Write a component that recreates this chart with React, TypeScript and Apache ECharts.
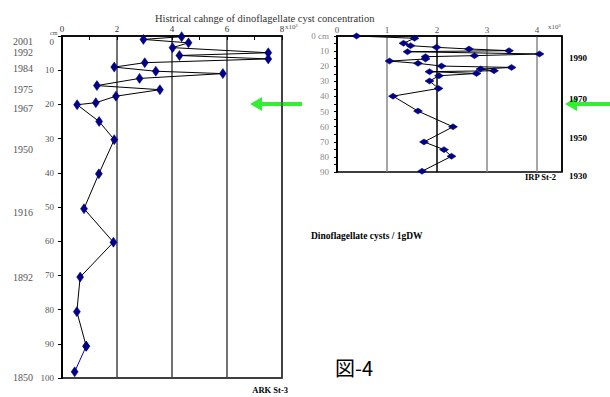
import React, { useEffect, useRef } from 'react';
import * as echarts from 'echarts';

// ARK St-3 (left panel): depth (cm) and cyst concentration (x10^3 / gDW)
const leftDepth = [0.2, 1, 2, 3.4, 4.9, 5.7, 6.7, 7.8, 9.1, 10.3, 11, 12.4, 14.5, 15.7, 17.6, 19.5, 20.1, 25, 30.3, 40.3, 50.5, 60.3, 70.5, 80.6, 90.7, 98.2];
const leftValue = [4.35, 2.96, 4.6, 4.02, 7.5, 4.27, 7.5, 3.01, 1.9, 3.41, 5.85, 2.82, 1.27, 3.56, 1.96, 1.23, 0.55, 1.35, 1.9, 1.34, 0.8, 1.87, 0.66, 0.54, 0.88, 0.46];
const leftYears = [2001, 1992, 1984, 1975, 1967, 1950, 1916, 1892, 1850];
const leftYearDepth = [1.7, 4.8, 9.6, 15.6, 21.1, 33.3, 51.6, 70.7, 99.8];

// IRP St-2 (right panel)
const rightDepth = [0, 1.5, 4.8, 6.4, 7.5, 8.6, 9.7, 10.4, 11.9, 13, 13.7, 15.2, 16.6, 18.1, 19.9, 20.8, 21.9, 23, 23.6, 24.8, 26.3, 29.8, 34.7, 39.8, 49.7, 60.1, 70.1, 75.2, 79.6, 89.5];
const rightValue = [0.39, 1.55, 1.33, 1.47, 1.99, 2.64, 3.44, 1.41, 4.05, 2.75, 1.77, 1.77, 1.05, 1.62, 2.09, 3.49, 2.87, 3.14, 1.85, 2.79, 2.04, 1.85, 2.03, 1.12, 1.62, 2.32, 1.74, 2.14, 2.29, 1.7];
const rightYears = [1990, 1970, 1950, 1930];
const rightYearDepth = [14.4, 42, 67.4, 90];

const serif = "'Liberation Serif', 'DejaVu Serif', serif";

export default function App() {
  const ref = useRef<HTMLDivElement>(null);
  useEffect(() => {
    const chart = echarts.init(ref.current!, null, { renderer: 'svg' });
    const leftMain = leftValue.slice(0, 25).map((v, i) => [v, leftDepth[i]]);
    const leftTail = leftValue.slice(24).map((v, i) => [v, leftDepth[i + 24]]);
    const rightData = rightValue.map((v, i) => [v, rightDepth[i]]);
    const lookup = (depths: number[], years: number[], v: number) => {
      const i = depths.findIndex((d) => Math.abs(d - v) < 1e-6);
      return i >= 0 ? String(years[i]) : '';
    };
    const arrow = (tip: number, tail: number, y: number) => ({
      type: 'polygon',
      shape: {
        points: [
          [tip, y], [tip + 12, y - 7], [tip + 12, y - 2], [tail, y - 2],
          [tail, y + 2], [tip + 12, y + 2], [tip + 12, y + 7],
        ],
      },
      style: { fill: '#33ee33' },
    });
    chart.setOption({
      animation: false,
      backgroundColor: '#fff',
      title: {
        text: 'Histrical cahnge of dinoflagellate cyst concentration',
        left: 150,
        top: 8,
        textStyle: { fontFamily: serif, fontSize: 10.5, fontWeight: 'normal', color: '#333' },
      },
      grid: [
        { left: 62, top: 36, width: 220, height: 342, show: true, borderColor: '#000', borderWidth: 1.5 },
        { left: 337, top: 36, width: 225, height: 136, show: true, borderColor: '#000', borderWidth: 1.5 },
      ],
      xAxis: [
        {
          gridIndex: 0, type: 'value', position: 'top', min: 0, max: 8, interval: 2,
          axisLine: { show: true, lineStyle: { color: '#000', width: 1.5 } },
          axisTick: { show: true, inside: true, length: 4, lineStyle: { color: '#000' } },
          minorTick: { show: true, splitNumber: 2, length: 4, lineStyle: { color: '#000' } },
          axisLabel: { fontFamily: serif, fontSize: 9, color: '#333', margin: 3 },
          splitLine: { show: true, lineStyle: { color: '#444', width: 1.5 } },
        },
        {
          gridIndex: 1, type: 'value', position: 'top', min: 0, max: 4.5, interval: 1,
          axisLine: { show: true, lineStyle: { color: '#000', width: 1.5 } },
          axisTick: { show: false },
          axisLabel: { fontFamily: serif, fontSize: 9, color: '#555', margin: 2, showMaxLabel: false,
            formatter: (v: number) => (v === 4.5 ? '' : String(v)) },
          splitLine: { show: true, lineStyle: { color: ['#000', '#888', '#000', '#888', '#888', '#000'], width: 1.5 } },
        },
      ],
      yAxis: [
        {
          gridIndex: 0, type: 'value', inverse: true, min: 0, max: 100, interval: 10,
          axisLine: { show: true, lineStyle: { color: '#000', width: 2 } },
          axisTick: { show: true, length: 4, lineStyle: { color: '#000' } },
          axisLabel: {
            fontFamily: serif, fontSize: 9, color: '#555', margin: 8,
            formatter: (v: number) => (v === 0 ? '{z|0}' : String(v)),
            rich: { z: { fontFamily: serif, fontSize: 9, color: '#555', padding: [11, 0, 0, 0] } },
          },
          splitLine: { show: false },
        },
        {
          gridIndex: 0, type: 'value', inverse: true, min: 0, max: 100, position: 'left', offset: 25,
          axisLine: { show: false }, axisTick: { show: false }, splitLine: { show: false },
          axisLabel: {
            fontFamily: serif, fontSize: 10, color: '#555', margin: 4,
            customValues: leftYearDepth,
            formatter: (v: number) => lookup(leftYearDepth, leftYears, v),
          },
        },
        {
          gridIndex: 1, type: 'value', inverse: true, min: 0, max: 90, interval: 10,
          axisLine: { show: true, lineStyle: { color: '#000', width: 2 } },
          axisTick: { show: true, length: 3, lineStyle: { color: '#000' } },
          minorTick: { show: true, splitNumber: 2, length: 3, lineStyle: { color: '#000' } },
          axisLabel: {
            fontFamily: serif, fontSize: 9, color: '#888', margin: 8,
            formatter: (v: number) => (v === 0 ? '0 cm' : String(v)),
          },
          splitLine: { show: false },
        },
        {
          gridIndex: 1, type: 'value', inverse: true, min: 0, max: 90, position: 'right', offset: 0,
          axisLine: { show: false }, axisTick: { show: false }, splitLine: { show: false },
          axisLabel: {
            fontFamily: serif, fontSize: 9, fontWeight: 'bold', color: '#000', margin: 7,
            customValues: rightYearDepth,
            formatter: (v: number) => {
              const s = lookup(rightYearDepth, rightYears, v);
              return v === 90 ? '{p|' + s + '}' : s;
            },
            rich: { p: { fontFamily: serif, fontSize: 9, fontWeight: 'bold', color: '#000', padding: [8, 0, 0, 0] } },
          },
        },
      ],
      series: [
        {
          type: 'line', xAxisIndex: 0, yAxisIndex: 0, data: leftMain,
          symbol: 'diamond', symbolSize: [7, 10],
          itemStyle: { color: '#00008b', borderColor: '#000060', borderWidth: 0.5 },
          lineStyle: { color: '#000', width: 1 },
        },
        {
          type: 'line', xAxisIndex: 0, yAxisIndex: 0, data: leftTail,
          symbol: 'diamond', symbolSize: [7, 10],
          itemStyle: { color: '#00008b', borderColor: '#000060', borderWidth: 0.5 },
          lineStyle: { color: '#0000cc', width: 1 },
        },
        {
          type: 'line', xAxisIndex: 1, yAxisIndex: 2, data: rightData,
          symbol: 'diamond', symbolSize: [9, 6],
          itemStyle: { color: '#00008b', borderColor: '#000060', borderWidth: 0.5 },
          lineStyle: { color: '#000', width: 1 },
        },
      ],
      graphic: [
        { type: 'text', x: 285, y: 23, style: { text: 'x10³', fontFamily: serif, fontSize: 7, fill: '#555' } },
        { type: 'text', x: 548, y: 23, style: { text: 'x10³', fontFamily: serif, fontSize: 7, fill: '#555' } },
        { type: 'text', x: 50, y: 30, style: { text: 'cm', fontFamily: serif, fontSize: 6, fill: '#555' } },
        { type: 'text', x: 288, y: 390, style: { text: 'ARK St-3', fontFamily: serif, fontSize: 8.5, fontWeight: 'bold', fill: '#000', align: 'right', verticalAlign: 'middle' } },
        { type: 'text', x: 556, y: 177, style: { text: 'IRP St-2', fontFamily: serif, fontSize: 8.5, fontWeight: 'bold', fill: '#000', align: 'right', verticalAlign: 'middle' } },
        { type: 'text', x: 311, y: 236, style: { text: 'Dinoflagellate cysts / 1gDW', fontFamily: serif, fontSize: 9.5, fontWeight: 'bold', fill: '#000', verticalAlign: 'middle' } },
        { type: 'text', x: 335, y: 367, style: { text: '図-4', fontFamily: "'Noto Sans CJK JP', sans-serif", fontSize: 20, fill: '#000', verticalAlign: 'middle' } },
        arrow(250, 302, 104),
        arrow(565, 612, 104),
      ],
    });
    return () => chart.dispose();
  }, []);
  return <div ref={ref} style={{ position: 'fixed', left: 0, top: 0, width: 610, height: 397 }} />;
}
